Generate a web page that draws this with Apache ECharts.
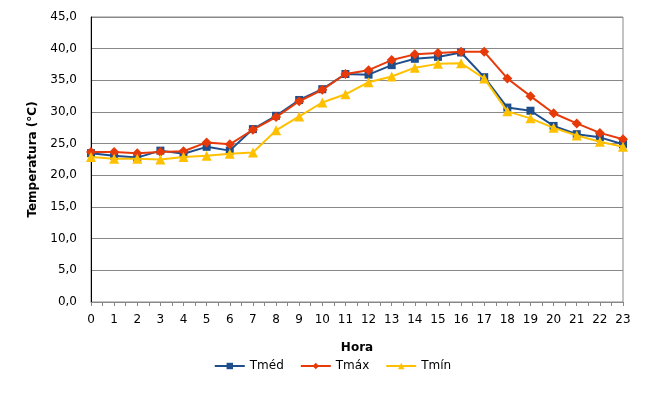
<!DOCTYPE html>
<html>
<head>
<meta charset="utf-8">
<script src="https://cdn.jsdelivr.net/npm/echarts@6/dist/echarts.min.js"></script>
<style>
  html, body { margin: 0; padding: 0; background: #fff; }
  #chart { width: 665px; height: 401px; }
</style>
</head>
<body>
<div id="chart"></div>
<script>
// horas do dia
var horas = [0,1,2,3,4,5,6,7,8,9,10,11,12,13,14,15,16,17,18,19,20,21,22,23];

var tMed = [23.5,23.1,22.8,23.9,23.4,24.5,23.9,27.3,29.4,31.9,33.6,36.0,35.9,37.4,38.4,38.7,39.4,35.5,30.7,30.2,27.8,26.5,26.0,24.9];
var tMax = [23.7,23.7,23.5,23.7,23.8,25.2,24.9,27.2,29.2,31.7,33.5,36.0,36.6,38.2,39.1,39.3,39.5,39.5,35.3,32.5,29.8,28.2,26.7,25.7];
var tMin = [22.9,22.6,22.6,22.5,22.9,23.1,23.4,23.6,27.1,29.3,31.5,32.8,34.7,35.6,37.0,37.6,37.7,35.3,30.1,29.0,27.5,26.3,25.3,24.5];

var nomes = ['Tméd', 'Tmáx', 'Tmín'];
var cores = ['#1F4E8C', '#E63A0A', '#FFC000'];
var simbolos = ['rect', 'diamond', 'triangle'];
var tamanhos = [8, 10, 10];

var pares = function (vals) {
    return vals.map(function (v, i) { return [horas[i], v]; });
};

var fonte = 'DejaVu Sans';
var series = [tMed, tMax, tMin].map(function (vals, i) {
    return {
        name: nomes[i],
        type: 'line',
        data: pares(vals),
        symbol: simbolos[i],
        symbolSize: tamanhos[i],
        showSymbol: true,
        lineStyle: { color: cores[i], width: 2 },
        itemStyle: { color: cores[i] },
        z: 2 + i,
        animation: false
    };
});

var option = {
    backgroundColor: '#fff',
    grid: { left: 91, right: 42, top: 17, bottom: 99, show: true, borderColor: '#888', borderWidth: 1 },
    legend: {
        data: nomes,
        bottom: 24,
        left: 'center',
        itemWidth: 30,
        itemHeight: 8,
        itemGap: 16,
        textStyle: { fontFamily: fonte, fontSize: 12, color: '#000' }
    },
    xAxis: {
        type: 'value',
        min: 0,
        max: 23,
        interval: 1,
        name: 'Hora',
        nameLocation: 'middle',
        nameGap: 40,
        nameTextStyle: { fontFamily: fonte, fontSize: 12, fontWeight: 'bold', color: '#000' },
        axisLine: { show: true, onZero: false, lineStyle: { color: '#888', width: 1 } },
        axisTick: { show: true, length: 4, lineStyle: { color: '#888' } },
        minorTick: { show: true, splitNumber: 2, length: 4, lineStyle: { color: '#888' } },
        splitLine: { show: false },
        axisLabel: { fontFamily: fonte, fontSize: 12, color: '#000', margin: 12 }
    },
    yAxis: {
        type: 'value',
        min: 0,
        max: 45,
        interval: 5,
        name: 'Temperatura (°C)',
        nameLocation: 'middle',
        nameGap: 52,
        nameTextStyle: { fontFamily: fonte, fontSize: 12, fontWeight: 'bold', color: '#000' },
        axisLine: { show: true, lineStyle: { color: '#000', width: 1 } },
        axisTick: { show: false },
        splitLine: { lineStyle: { color: '#888', width: 1 } },
        axisLabel: {
            fontFamily: fonte, fontSize: 12, color: '#000', margin: 14,
            formatter: function (v) { return v.toFixed(1).replace('.', ','); }
        }
    },
    series: series
};

var grafico = echarts.init(document.getElementById('chart'));
grafico.setOption(option);
</script>
</body>
</html>
